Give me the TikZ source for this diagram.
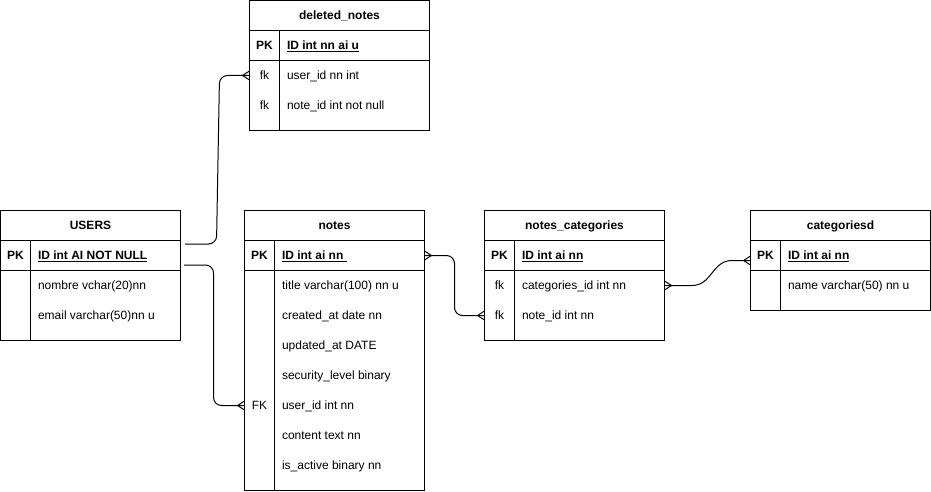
\documentclass[tikz,border=0pt]{standalone}
\usepackage{fontspec}
\setmainfont{Liberation Sans}
\usetikzlibrary{calc}

% bold, underlined primary-key field text
\newcommand{\keyfield}[1]{\setbox0\hbox{\bfseries #1}\rlap{\rule[-1.8pt]{\wd0}{0.8pt}}\box0}

\tikzset{
  every node/.style={font=\fontsize{12pt}{14pt}\selectfont},
  tbl/.style={draw, line width=1pt, minimum width=180pt, anchor=north west,
              inner sep=0pt, outer sep=0pt},
  txt/.style={inner sep=0pt, outer sep=0pt, text height=8.6pt, text depth=0pt},
  hdr/.style={txt, font=\fontsize{12pt}{14pt}\selectfont\bfseries},
  pkcol/.style={txt, font=\fontsize{12pt}{14pt}\selectfont\bfseries},
  keycol/.style={txt},
  fld/.style={txt, anchor=west},
  grid/.style={line width=1pt},
  link/.style={draw, line width=1pt, rounded corners=8pt},
  crow/.pic={\draw[line width=1pt] (-7,0) -- (0,4.5) (-7,0) -- (0,-4.5);}
}

\begin{document}
\begin{tikzpicture}[x=1pt, y=-1pt]
\useasboundingbox (0,0) rectangle (931,492);

% ---------- deleted_notes ----------
\node[tbl, minimum height=130pt] (dn) at (249.5,0.5) {};
\draw[grid] (249.5,30.5) -- (429.5,30.5) (249.5,60.5) -- (429.5,60.5)
            (279.5,30.5) -- (279.5,130.5);
\node[hdr] (dn-h) at (339.5,15.5) {deleted\_notes};
\node[pkcol] (dn-pk) at (264.5,45.5) {PK};
\node[fld] (dn-id) at (287,45.5) {\keyfield{ID int nn ai u}};
\node[keycol] (dn-fk1) at (264.5,75.5) {fk};
\node[fld] (dn-user) at (287,75.5) {user\_id nn int};
\node[keycol] (dn-fk2) at (264.5,105.5) {fk};
\node[fld] (dn-note) at (287,105.5) {note\_id int not null};

% ---------- USERS ----------
\node[tbl, minimum height=130pt] (us) at (0.5,210.5) {};
\draw[grid] (0.5,240.5) -- (180.5,240.5) (0.5,270.5) -- (180.5,270.5)
            (30.5,240.5) -- (30.5,340.5);
\node[hdr] (us-h) at (90.5,225.5) {USERS};
\node[pkcol] (us-pk) at (15.5,255.5) {PK};
\node[fld] (us-id) at (38,255.5) {\keyfield{ID int AI NOT NULL}};
\node[fld] (us-name) at (38,285.5) {nombre vchar(20)nn};
\node[fld] (us-mail) at (38,315.5) {email varchar(50)nn u};

% ---------- notes ----------
\node[tbl, minimum height=280pt] (nt) at (244.5,210.5) {};
\draw[grid] (244.5,240.5) -- (424.5,240.5) (244.5,270.5) -- (424.5,270.5)
            (274.5,240.5) -- (274.5,490.5);
\node[hdr] (nt-h) at (334.5,225.5) {notes};
\node[pkcol] (nt-pk) at (259.5,255.5) {PK};
\node[fld] (nt-id) at (282,255.5) {\keyfield{ID int ai nn\ }};
\node[fld] (nt-title) at (282,285.5) {title varchar(100) nn u};
\node[fld] (nt-created) at (282,315.5) {created\_at date nn};
\node[fld] (nt-updated) at (282,345.5) {updated\_at DATE};
\node[fld] (nt-sec) at (282,375.5) {security\_level binary};
\node[keycol] (nt-fk) at (259.5,405.5) {FK};
\node[fld] (nt-user) at (282,405.5) {user\_id int nn};
\node[fld] (nt-content) at (282,435.5) {content text nn};
\node[fld] (nt-active) at (282,465.5) {is\_active binary nn};

% ---------- notes_categories ----------
\node[tbl, minimum height=130pt] (nc) at (484.5,210.5) {};
\draw[grid] (484.5,240.5) -- (664.5,240.5) (484.5,270.5) -- (664.5,270.5)
            (514.5,240.5) -- (514.5,340.5);
\node[hdr] (nc-h) at (574.5,225.5) {notes\_categories};
\node[pkcol] (nc-pk) at (499.5,255.5) {PK};
\node[fld] (nc-id) at (522,255.5) {\keyfield{ID int ai nn}};
\node[keycol] (nc-fk1) at (499.5,285.5) {fk};
\node[fld] (nc-cat) at (522,285.5) {categories\_id int nn};
\node[keycol] (nc-fk2) at (499.5,315.5) {fk};
\node[fld] (nc-note) at (522,315.5) {note\_id int nn};

% ---------- categoriesd ----------
\node[tbl, minimum height=100pt] (cd) at (750.5,210.5) {};
\draw[grid] (750.5,240.5) -- (930.5,240.5) (750.5,270.5) -- (930.5,270.5)
            (780.5,240.5) -- (780.5,310.5);
\node[hdr] (cd-h) at (840.5,225.5) {categoriesd};
\node[pkcol] (cd-pk) at (765.5,255.5) {PK};
\node[fld] (cd-id) at (788,255.5) {\keyfield{ID int ai nn}};
\node[fld] (cd-name) at (788,285.5) {name varchar(50) nn u};

% ---------- relationships ----------
% USERS -> deleted_notes.user_id
\draw[link] ($(us.east |- us-pk)+(4.5,-11.5)$) -- (216.5,244) -- (219.5,75.5)
            -- (dn.west |- dn-fk1);
\pic at (dn.west |- dn-fk1) {crow};

% USERS -> notes.user_id
\draw[link] ($(us.east |- us-pk)+(3.5,9.5)$) -- (213.5,265) -- (213.5,405.5)
            -- (nt.west |- nt-fk);
\pic at (nt.west |- nt-fk) {crow};

% notes -> notes_categories.note_id
\draw[link] (nt.east |- nt-pk) -- (454.5,255.5) -- (454.5,315.5)
            -- (nc.west |- nc-fk2);
\pic[rotate=180] at (nt.east |- nt-pk) {crow};
\pic at (nc.west |- nc-fk2) {crow};

% notes_categories.categories_id -> categoriesd
\coordinate (cd-in) at ($(cd.west |- cd-pk)+(0,5)$);
\draw[line width=1pt] (nc.east |- nc-fk1) -- (692,285.5)
      .. controls (712,285.5) and (712,260.5) .. (732,260.5) -- (cd-in);
\pic[rotate=180] at (nc.east |- nc-fk1) {crow};
\pic at (cd-in) {crow};

\end{tikzpicture}
\end{document}
